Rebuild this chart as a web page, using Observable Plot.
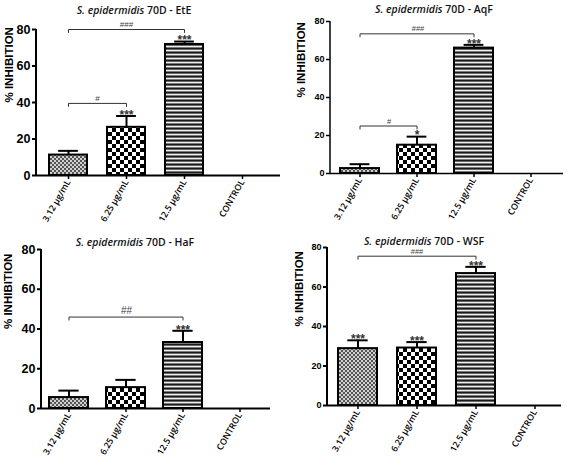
<!DOCTYPE html>
<html><head><meta charset="utf-8">
<script src="https://cdn.jsdelivr.net/npm/d3@7"></script>
<script src="https://cdn.jsdelivr.net/npm/@observablehq/plot@0.6"></script>
<style>
body{margin:0;background:#fff;}
#root{position:relative;width:567px;height:457px;overflow:hidden;background:#fff;}
.panel{position:absolute;}
.panel svg{max-width:none;overflow:visible;}
.title{position:absolute;font-family:"Open Sans",sans-serif;font-weight:600;font-size:10.5px;white-space:nowrap;transform:translate(-50%,-50%);color:#111;}
</style></head><body>
<svg width="0" height="0" style="position:absolute">
  <defs>
    <pattern id="pFine" width="4" height="4" patternUnits="userSpaceOnUse">
      <rect width="4" height="4" fill="#d0d0d0"/>
      <rect x="0" y="0" width="2" height="2" fill="#555"/>
      <rect x="2" y="2" width="2" height="2" fill="#555"/>
    </pattern>
    <pattern id="pCheck" width="8" height="8" patternUnits="userSpaceOnUse">
      <rect width="8" height="8" fill="#fff"/>
      <rect x="0" y="0" width="4" height="4" fill="#000"/>
      <rect x="4" y="4" width="4" height="4" fill="#000"/>
    </pattern>
    <pattern id="pStripe" width="4" height="4" patternUnits="userSpaceOnUse">
      <rect width="4" height="4" fill="#7a7a7a"/>
      <rect x="0" y="0" width="4" height="1.2" fill="#1a1a1a"/>
      <rect x="0" y="2" width="4" height="1" fill="#eeeeee"/>
    </pattern>
  </defs>
</svg>
<div id="root"></div>
<script>
// ---- data ----
const categories = ["3.12 µg/mL", "6.25 µg/mL", "12.5 µg/mL", "CONTROL"];
const yTicks = [0, 20, 40, 60, 80];
const barPatterns = ["url(#pFine)", "url(#pCheck)", "url(#pStripe)", "none"];
const yLabel = "% INHIBITION";
const species = "S. epidermidis";

const eteMean = [11.2, 26.4, 71.8, 0];
const eteSem  = [2.3, 6.2, 1.6, 0];
const eteStars = ["", "***", "***", ""];
const eteBrackets = [{from: 0, to: 1, y: 39.5, label: "#"}, {from: 0, to: 2, y: 80, label: "###"}];

const aqfMean = [2.6, 14.9, 66.0, 0];
const aqfSem  = [2.3, 4.5, 1.7, 0];
const aqfStars = ["", "*", "***", ""];
const aqfBrackets = [{from: 0, to: 1, y: 25, label: "#"}, {from: 0, to: 2, y: 73.5, label: "###"}];

const hafMean = [5.5, 10.5, 33.2, 0];
const hafSem  = [3.5, 3.9, 5.9, 0];
const hafStars = ["", "", "***", ""];
const hafBrackets = [{from: 0, to: 2, y: 46, label: "##"}];

const wsfMean = [28.8, 29.1, 66.8, 0];
const wsfSem  = [4.2, 3.0, 3.4, 0];
const wsfStars = ["***", "***", "***", ""];
const wsfBrackets = [{from: 0, to: 2, y: 75.6, label: "###"}];

// ---- layout ----
const panels = [
  {name: "70D - EtE", mean: eteMean, sem: eteSem, stars: eteStars, brackets: eteBrackets,
   left: 0, top: 0, W: 283, H: 228, ml: 36, mr: 3, mt: 29, mb: 53, xRange: [49, 261], padIn: 0.345,
   tickFs: 12.5, axisW: 2, labelDx: -27.5, title: [134, 10], bracketFs: 8},
  {name: "70D - AqF", mean: aqfMean, sem: aqfSem, stars: aqfStars, brackets: aqfBrackets,
   left: 283, top: 0, W: 284, H: 228, ml: 47, mr: 4, mt: 21, mb: 55, xRange: [57, 271], padIn: 0.31,
   tickFs: 9, axisW: 1.5, labelDx: -29, title: [151, 8.5], bracketFs: 7.5},
  {name: "70D - HaF", mean: hafMean, sem: hafSem, stars: hafStars, brackets: hafBrackets,
   left: 0, top: 228, W: 283, H: 229, ml: 41, mr: 13, mt: 21, mb: 49, xRange: [48.5, 260], padIn: 0.32,
   tickFs: 12.5, axisW: 2, labelDx: -33.5, title: [135, 14], bracketFs: 10},
  {name: "70D - WSF", mean: wsfMean, sem: wsfSem, stars: wsfStars, brackets: wsfBrackets,
   left: 283, top: 228, W: 284, H: 229, ml: 44, mr: 6, mt: 19, mb: 52, xRange: [55, 271], padIn: 0.34,
   tickFs: 9, axisW: 2, labelDx: -28, title: [141, 13], bracketFs: 7.5}
];

const SVGNS = "http://www.w3.org/2000/svg";
function yAxisLine(w) {
  return (index, scales, values, dims) => {
    const l = document.createElementNS(SVGNS, "line");
    const x = dims.marginLeft;
    l.setAttribute("x1", x); l.setAttribute("x2", x);
    l.setAttribute("y1", scales.y(yTicks[0]));
    l.setAttribute("y2", scales.y(yTicks[yTicks.length - 1]));
    l.setAttribute("stroke", "black");
    l.setAttribute("stroke-width", w);
    return l;
  };
}

const FONT_ARIAL = "Liberation Sans, Arial, sans-serif";

function makePanel(cfg) {
  const step = (cfg.xRange[1] - cfg.xRange[0]) / (categories.length - cfg.padIn);
  const bw = step * (1 - cfg.padIn);
  const data = categories.map((c, i) => ({cat: c, mean: cfg.mean[i], sem: cfg.sem[i], stars: cfg.stars[i], pat: barPatterns[i]}));
  const bars = data.filter(d => d.mean > 0);
  const plotH = cfg.H - cfg.mt - cfg.mb;
  const drop = 3 * 80 / plotH;
  const bracketPts = cfg.brackets.flatMap((b, k) => [
    {k, cat: categories[b.from], y: b.y - drop},
    {k, cat: categories[b.from], y: b.y},
    {k, cat: categories[b.to], y: b.y},
    {k, cat: categories[b.to], y: b.y - drop}
  ]);
  const bracketLabels = cfg.brackets.map(b => Plot.text([b], {x: d => categories[d.from], y: "y", text: "label",
    dx: (b.to - b.from) * step / 2, dy: -(cfg.bracketFs * 0.65), fontSize: cfg.bracketFs, fill: "#444",
    fontFamily: FONT_ARIAL, lineAnchor: "middle"}));
  const svg = Plot.plot({
    width: cfg.W, height: cfg.H,
    marginLeft: cfg.ml, marginRight: cfg.mr, marginTop: cfg.mt, marginBottom: cfg.mb,
    style: {background: "transparent", overflow: "visible"},
    x: {type: "band", domain: categories, range: cfg.xRange, paddingInner: cfg.padIn, paddingOuter: 0, align: 0},
    y: {domain: [0, 80]},
    color: {type: "identity"},
    marks: [
      Plot.barY(bars, {x: "cat", y: "mean", fill: "pat", stroke: "black", strokeWidth: 2}),
      Plot.ruleX(bars, {x: "cat", y1: "mean", y2: d => d.mean + d.sem, stroke: "black", strokeWidth: 2}),
      Plot.tickY(bars, {x: "cat", y: d => d.mean + d.sem, stroke: "black", strokeWidth: 2, insetLeft: bw * 0.24, insetRight: bw * 0.24}),
      Plot.text(data.filter(d => d.stars), {x: "cat", y: d => d.mean + d.sem, text: "stars", lineAnchor: "middle", dy: -1,
        fontSize: 12, fontWeight: "bold", fontFamily: FONT_ARIAL, fill: "#333"}),
      Plot.line(bracketPts, {x: "cat", y: "y", z: "k", stroke: "#333", strokeWidth: 1}),
      ...bracketLabels,
      Plot.ruleY([0], {stroke: "black", strokeWidth: cfg.axisW}),
      yAxisLine(cfg.axisW),
      Plot.axisY({ticks: yTicks, tickSize: 4, tickPadding: 2, fontSize: cfg.tickFs, fontWeight: "bold",
        fontFamily: FONT_ARIAL, strokeWidth: cfg.axisW, label: null, fill: "black"}),
      Plot.axisX({tickRotate: -60, tickSize: 4, tickPadding: 1, fontSize: 8.8, fontWeight: 600,
        fontFamily: "Open Sans, sans-serif", strokeWidth: 1.5, label: null, fill: "black"}),
      Plot.text([yLabel], {frameAnchor: "left", dx: cfg.labelDx, rotate: -90, fontSize: 11.5, fontWeight: "bold",
        fontFamily: FONT_ARIAL, fill: "black"})
    ]
  });
  const div = document.createElement("div");
  div.className = "panel";
  div.style.left = cfg.left + "px";
  div.style.top = cfg.top + "px";
  div.style.width = cfg.W + "px";
  div.style.height = cfg.H + "px";
  div.appendChild(svg);
  const t = document.createElement("div");
  t.className = "title";
  t.style.left = cfg.title[0] + "px";
  t.style.top = cfg.title[1] + "px";
  t.innerHTML = `<i>${species}</i> ${cfg.name}`;
  div.appendChild(t);
  return div;
}

const root = document.getElementById("root");
for (const cfg of panels) root.appendChild(makePanel(cfg));
</script>
</body></html>
